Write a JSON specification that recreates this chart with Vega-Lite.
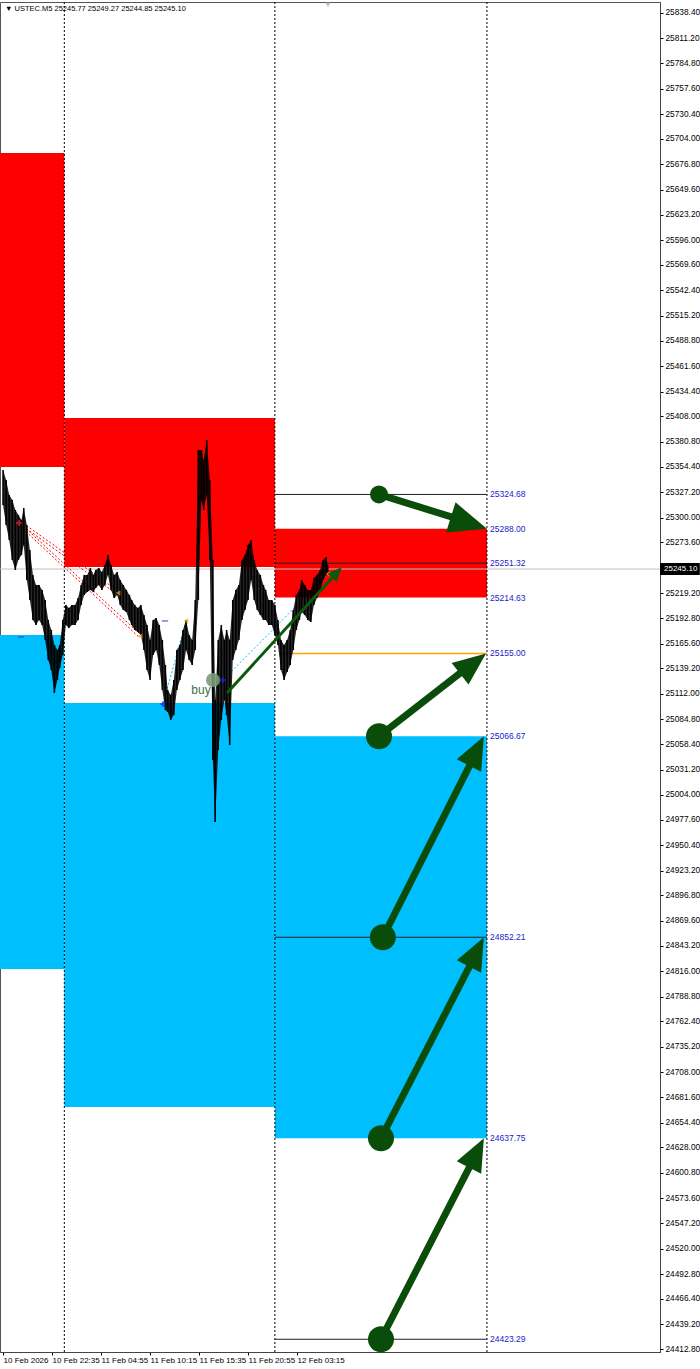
{
 "$schema": "https://vega.github.io/schema/vega-lite/v6.json",
 "width": 660, "height": 1350,
 "autosize": {"type": "none"},
 "padding": {"left": 0, "top": 2, "right": 40, "bottom": 17},
 "background": "#ffffff",
 "config": {"view": {"stroke": "#555555", "strokeWidth": 1}, "font": "Liberation Sans",
  "axis": {"grid": false, "labelFont": "Liberation Sans", "labelFontSize": 8, "labelColor": "#000000", "tickColor": "#000000", "tickSize": 3, "domainColor": "#444444", "labelOverlap": false, "labelFlush": false, "labelBound": false}},
 "data": {"values": [{}]},
 "datasets": {
  "zones": [
   {"x1": -4, "x2": 80, "top": 25689.0, "bot": 25354.0, "kind": "supply"},
   {"x1": -4, "x2": 80, "top": 25174.7, "bot": 24818.4, "kind": "demand"},
   {"x1": 80, "x2": 355, "top": 25406.3, "bot": 25247.3, "kind": "supply"},
   {"x1": 80, "x2": 355, "top": 25102.2, "bot": 24671.1, "kind": "demand"},
   {"x1": 355, "x2": 632, "top": 25288.0, "bot": 25214.63, "kind": "supply"},
   {"x1": 355, "x2": 632, "top": 25066.67, "bot": 24637.75, "kind": "demand"}
  ],
  "seps": [{"b": 80}, {"b": 355}, {"b": 632}],
  "levels": [
   {"price": 25324.68, "label": "25324.68", "kind": "line"},
   {"price": 25288.00, "label": "25288.00", "kind": "none"},
   {"price": 25251.32, "label": "25251.32", "kind": "line"},
   {"price": 25214.63, "label": "25214.63", "kind": "none"},
   {"price": 25155.00, "label": "25155.00", "kind": "orange"},
   {"price": 25066.67, "label": "25066.67", "kind": "none"},
   {"price": 24852.21, "label": "24852.21", "kind": "line"},
   {"price": 24637.75, "label": "24637.75", "kind": "none"},
   {"price": 24423.29, "label": "24423.29", "kind": "line"}
  ],
  "bars": [
   {"b":0,"hi":25350.8,"lo":25313.4},{"b":4,"hi":25340.1,"lo":25292.1},{"b":8,"hi":25324.1,"lo":25276.1},{"b":12,"hi":25318.8,"lo":25254.8},
   {"b":16,"hi":25308.1,"lo":25244.1},{"b":20,"hi":25302.8,"lo":25254.8},{"b":24,"hi":25297.4,"lo":25260.1},{"b":27,"hi":25310.2,"lo":25270.8},
   {"b":31,"hi":25292.1,"lo":25233.4},{"b":35,"hi":25265.4,"lo":25212.1},{"b":39,"hi":25238.8,"lo":25190.8},{"b":43,"hi":25228.1,"lo":25185.4},
   {"b":47,"hi":25228.1,"lo":25190.8},{"b":51,"hi":25222.8,"lo":25185.4},{"b":55,"hi":25212.1,"lo":25169.4},{"b":59,"hi":25190.8,"lo":25148.1},
   {"b":63,"hi":25180.1,"lo":25137.4},{"b":67,"hi":25164.1,"lo":25112.9},{"b":71,"hi":25158.7,"lo":25126.7},{"b":74,"hi":25164.1,"lo":25139.5},
   {"b":78,"hi":25190.8,"lo":25153.4},{"b":82,"hi":25206.8,"lo":25185.4},{"b":86,"hi":25203.6,"lo":25182.2},{"b":90,"hi":25206.8,"lo":25185.4},
   {"b":94,"hi":25206.8,"lo":25185.4},{"b":98,"hi":25214.2,"lo":25190.8},{"b":102,"hi":25228.1,"lo":25206.8},{"b":106,"hi":25238.8,"lo":25217.4},
   {"b":110,"hi":25238.8,"lo":25220.6},{"b":114,"hi":25246.2,"lo":25222.8},{"b":118,"hi":25238.8,"lo":25220.6},{"b":121,"hi":25244.1,"lo":25224.9},
   {"b":125,"hi":25246.2,"lo":25228.1},{"b":129,"hi":25241.9,"lo":25222.8},{"b":133,"hi":25249.4,"lo":25228.1},{"b":137,"hi":25260.1,"lo":25238.8},
   {"b":141,"hi":25249.4,"lo":25222.8},{"b":145,"hi":25238.8,"lo":25214.2},{"b":149,"hi":25241.9,"lo":25217.4},{"b":153,"hi":25233.4,"lo":25206.8},
   {"b":157,"hi":25228.1,"lo":25201.4},{"b":161,"hi":25222.8,"lo":25199.3},{"b":165,"hi":25217.4,"lo":25190.8},{"b":168,"hi":25212.1,"lo":25185.4},
   {"b":172,"hi":25206.8,"lo":25180.1},{"b":176,"hi":25203.6,"lo":25177.9},{"b":180,"hi":25206.8,"lo":25174.8},{"b":184,"hi":25196.1,"lo":25158.7},
   {"b":188,"hi":25185.4,"lo":25137.4},{"b":192,"hi":25169.4,"lo":25126.7},{"b":196,"hi":25190.8,"lo":25153.4},{"b":200,"hi":25192.9,"lo":25158.7},
   {"b":204,"hi":25185.4,"lo":25142.7},{"b":208,"hi":25169.4,"lo":25116.1},{"b":212,"hi":25142.7,"lo":25094.7},{"b":215,"hi":25116.1,"lo":25092.6},
   {"b":219,"hi":25110.7,"lo":25084.1},{"b":223,"hi":25126.7,"lo":25089.4},{"b":227,"hi":25158.7,"lo":25116.1},{"b":231,"hi":25164.1,"lo":25126.7},
   {"b":235,"hi":25180.1,"lo":25137.4},{"b":239,"hi":25190.8,"lo":25158.7},{"b":243,"hi":25174.8,"lo":25148.1},{"b":247,"hi":25169.4,"lo":25142.7},
   {"b":251,"hi":25212.1,"lo":25158.7},{"b":255,"hi":25372.1,"lo":25212.1},{"b":259,"hi":25372.1,"lo":25318.8},{"b":262,"hi":25361.5,"lo":25308.1},
   {"b":266,"hi":25382.8,"lo":25324.1},{"b":270,"hi":25340.1,"lo":25254.8},{"b":274,"hi":25254.8,"lo":25041.4},{"b":277,"hi":25105.4,"lo":24975.2},
   {"b":281,"hi":25169.4,"lo":25052.0},{"b":285,"hi":25185.4,"lo":25084.1},{"b":289,"hi":25169.4,"lo":25105.4},{"b":292,"hi":25180.1,"lo":25089.4},
   {"b":296,"hi":25169.4,"lo":25057.4},{"b":300,"hi":25212.1,"lo":25148.1},{"b":304,"hi":25222.8,"lo":25158.7},{"b":308,"hi":25228.1,"lo":25169.4},
   {"b":312,"hi":25254.8,"lo":25190.8},{"b":316,"hi":25260.1,"lo":25201.4},{"b":320,"hi":25270.8,"lo":25212.1},{"b":324,"hi":25276.1,"lo":25233.4},
   {"b":328,"hi":25254.8,"lo":25212.1},{"b":332,"hi":25244.1,"lo":25201.4},{"b":336,"hi":25238.8,"lo":25196.1},{"b":340,"hi":25228.1,"lo":25190.8},
   {"b":343,"hi":25222.8,"lo":25190.8},{"b":347,"hi":25212.1,"lo":25185.4},{"b":351,"hi":25212.1,"lo":25185.4},{"b":355,"hi":25206.8,"lo":25174.8},
   {"b":359,"hi":25190.8,"lo":25164.1},{"b":363,"hi":25169.4,"lo":25137.4},{"b":367,"hi":25164.1,"lo":25126.7},{"b":371,"hi":25169.4,"lo":25135.2},
   {"b":375,"hi":25180.1,"lo":25142.7},{"b":379,"hi":25201.4,"lo":25158.7},{"b":383,"hi":25217.4,"lo":25180.1},{"b":387,"hi":25222.8,"lo":25190.8},
   {"b":390,"hi":25233.4,"lo":25199.3},{"b":394,"hi":25228.1,"lo":25196.1},{"b":398,"hi":25222.8,"lo":25190.8},{"b":402,"hi":25222.8,"lo":25188.6},
   {"b":406,"hi":25235.6,"lo":25206.8},{"b":410,"hi":25238.8,"lo":25214.2},{"b":414,"hi":25244.1,"lo":25220.6},{"b":418,"hi":25254.8,"lo":25233.4},
   {"b":422,"hi":25258.0,"lo":25238.8},{"b":424,"hi":25249.4,"lo":25241.9}
  ],
  "dotted": [
   {"b1": 22.1, "p1": 25296.4, "b2": 150.1, "p2": 25221.7, "c": "red"},
   {"b1": 22.1, "p1": 25293.2, "b2": 150.1, "p2": 25217.4, "c": "red"},
   {"b1": 22.1, "p1": 25294.2, "b2": 178.8, "p2": 25175.8, "c": "red"},
   {"b1": 22.1, "p1": 25291.0, "b2": 178.8, "p2": 25171.5, "c": "red"},
   {"b1": 208.9, "p1": 25101.1, "b2": 238.9, "p2": 25189.7, "c": "blue"},
   {"b1": 287.2, "p1": 25126.7, "b2": 424.4, "p2": 25239.7, "c": "blue"}
  ],
  "markers": [
   {"b": 20.8, "p": 25294.2, "kind": "redcross"},
   {"b": 150.1, "p": 25219.5, "kind": "orange"},
   {"b": 178.8, "p": 25173.6, "kind": "orange"},
   {"b": 238.9, "p": 25189.7, "kind": "orange"},
   {"b": 424.4, "p": 25239.7, "kind": "orange"},
   {"b": 208.9, "p": 25101.1, "kind": "bluecross"},
   {"b": 287.2, "p": 25126.7, "kind": "bluecross"},
   {"b": 23.4, "p": 25172.6, "kind": "dash"},
   {"b": 211.5, "p": 25189.7, "kind": "dash"}
  ],
  "arrows": [
   {"id": 1, "b1": 491, "p1": 25324.68, "nb": 612.0, "np": 25294.0, "b2": 632, "p2": 25288.00},
   {"id": 2, "b1": 491, "p1": 25066.67, "nb": 614.3, "np": 25145.0, "b2": 630.7, "p2": 25155.00},
   {"id": 3, "b1": 496, "p1": 24852.21, "nb": 618.7, "np": 25050.6, "b2": 628, "p2": 25066.67},
   {"id": 4, "b1": 493.6, "p1": 24637.75, "nb": 618.7, "np": 24836.2, "b2": 628, "p2": 24852.21},
   {"id": 5, "b1": 493.6, "p1": 24423.29, "nb": 618.7, "np": 24622.2, "b2": 628, "p2": 24637.75},
   {"id": 6, "b1": 292.5, "p1": 25112.9, "nb": 436.5, "np": 25241.7, "b2": 442.6, "p2": 25247.3}
  ]
 },
 "layer": [
  {
   "data": {"name": "zones"},
   "mark": {"type": "rect"},
   "encoding": {
    "x": {"field": "x1", "type": "quantitative",
     "scale": {"domain": [-4, 858], "nice": false, "zero": false},
     "axis": {"orient": "bottom", "values": [0, 64, 128, 192, 256, 320, 384], "tickCount": 20,
      "labelExpr": "['10 Feb 2026','10 Feb 22:35','11 Feb 04:55','11 Feb 10:15','11 Feb 15:35','11 Feb 20:55','12 Feb 03:15'][round(datum.value/64)]",
      "labelAlign": "left", "labelBaseline": "top", "labelPadding": 1, "title": null, "labelOverlap": false}},
    "x2": {"field": "x2"},
    "y": {"field": "top", "type": "quantitative",
     "scale": {"domain": [24409.7, 25850.1], "nice": false, "zero": false},
     "axis": {"orient": "right", "format": ".2f", "labelPadding": 2, "title": null, "labelOverlap": false, "labelFontSize": 8.3, "tickCount": 80,
      "values": [25838.4,25811.2,25784.8,25757.6,25730.4,25704.0,25676.8,25649.6,25623.2,25596.0,25569.6,25542.4,25515.2,25488.8,25461.6,25434.4,25408.0,25380.8,25354.4,25327.2,25300.0,25273.6,25219.2,25192.8,25165.6,25139.2,25112.0,25084.8,25058.4,25031.2,25004.0,24977.6,24950.4,24923.2,24896.8,24869.6,24843.2,24816.0,24788.8,24762.4,24735.2,24708.0,24681.6,24654.4,24628.0,24600.8,24573.6,24547.2,24520.0,24492.8,24466.4,24439.2,24412.8]}},
    "y2": {"field": "bot"},
    "color": {"field": "kind", "type": "nominal", "scale": {"domain": ["supply", "demand"], "range": ["#ff0000", "#00bfff"]}, "legend": null}
   }
  },
  {
   "data": {"name": "seps"},
   "mark": {"type": "rule", "color": "#000000", "strokeDash": [2, 2], "strokeWidth": 1},
   "encoding": {"x": {"field": "b", "type": "quantitative"}}
  },
  {
   "mark": {"type": "rule", "color": "#c0c0c0", "strokeWidth": 1},
   "encoding": {"y": {"datum": 25245.1, "type": "quantitative"}}
  },
  {
   "data": {"name": "levels"},
   "transform": [{"filter": "datum.kind == 'line'"}],
   "mark": {"type": "rule", "color": "#202020", "strokeWidth": 1},
   "encoding": {
    "x": {"datum": 355, "type": "quantitative"},
    "x2": {"datum": 632},
    "y": {"field": "price", "type": "quantitative"}
   }
  },
  {
   "data": {"name": "levels"},
   "transform": [{"filter": "datum.kind == 'orange'"}],
   "mark": {"type": "rule", "color": "#ffa500", "strokeWidth": 1.5},
   "encoding": {
    "x": {"datum": 361.7, "type": "quantitative"},
    "x2": {"datum": 632},
    "y": {"field": "price", "type": "quantitative"}
   }
  },
  {
   "data": {"name": "dotted"},
   "mark": {"type": "rule", "strokeDash": [2, 2], "strokeWidth": 1},
   "encoding": {
    "x": {"field": "b1", "type": "quantitative"},
    "x2": {"field": "b2"},
    "y": {"field": "p1", "type": "quantitative"},
    "y2": {"field": "p2"},
    "color": {"field": "c", "type": "nominal", "scale": {"domain": ["red", "blue"], "range": ["#ff5050", "#3333ff"]}, "legend": null}
   }
  },
  {
   "data": {"name": "bars"},
   "mark": {"type": "area", "color": "#000000", "opacity": 0.85, "interpolate": "linear"},
   "encoding": {
    "x": {"field": "b", "type": "quantitative"},
    "y": {"field": "hi", "type": "quantitative"},
    "y2": {"field": "lo"}
   }
  },
  {
   "data": {"name": "bars"},
   "mark": {"type": "rule", "color": "#000000", "strokeWidth": 1.6},
   "encoding": {
    "x": {"field": "b", "type": "quantitative"},
    "y": {"field": "hi", "type": "quantitative"},
    "y2": {"field": "lo"}
   }
  },
  {
   "data": {"name": "markers"},
   "transform": [{"filter": "datum.kind == 'orange'"}],
   "mark": {"type": "point", "shape": "triangle-left", "filled": true, "color": "#f5a020", "size": 30},
   "encoding": {"x": {"field": "b", "type": "quantitative"}, "y": {"field": "p", "type": "quantitative"}}
  },
  {
   "data": {"name": "markers"},
   "transform": [{"filter": "datum.kind == 'redcross'"}],
   "mark": {"type": "point", "shape": "cross", "filled": true, "color": "#ff2020", "size": 30},
   "encoding": {"x": {"field": "b", "type": "quantitative"}, "y": {"field": "p", "type": "quantitative"}}
  },
  {
   "data": {"name": "markers"},
   "transform": [{"filter": "datum.kind == 'bluecross'"}],
   "mark": {"type": "point", "shape": "cross", "filled": true, "color": "#2020ff", "size": 30},
   "encoding": {"x": {"field": "b", "type": "quantitative"}, "y": {"field": "p", "type": "quantitative"}}
  },
  {
   "data": {"name": "markers"},
   "transform": [{"filter": "datum.kind == 'dash'"}],
   "mark": {"type": "point", "shape": "stroke", "color": "#4040d0", "strokeWidth": 1.5, "size": 40},
   "encoding": {"x": {"field": "b", "type": "quantitative"}, "y": {"field": "p", "type": "quantitative"}}
  },
  {
   "mark": {"type": "point", "shape": "circle", "filled": true, "color": "#7a9a7a", "opacity": 0.9, "size": 196},
   "encoding": {"x": {"datum": 274.2, "type": "quantitative"}, "y": {"datum": 25126.7, "type": "quantitative"}}
  },
  {
   "mark": {"type": "text", "text": "buy", "color": "#3f6f3f", "fontSize": 12, "font": "Liberation Sans", "align": "center", "baseline": "middle"},
   "encoding": {"x": {"datum": 258.5, "type": "quantitative"}, "y": {"datum": 25116.1, "type": "quantitative"}}
  },
  {
   "data": {"name": "arrows"},
   "transform": [{"filter": "datum.id == 6"}],
   "mark": {"type": "rule", "color": "#0b5a0b", "strokeWidth": 3},
   "encoding": {
    "x": {"field": "b1", "type": "quantitative"}, "x2": {"field": "nb"},
    "y": {"field": "p1", "type": "quantitative"}, "y2": {"field": "np"}
   }
  },
  {
   "data": {"name": "arrows"},
   "transform": [{"filter": "datum.id == 6"}],
   "mark": {"type": "point", "shape": "M0,0 L-2.4,-1 L-2.4,1 Z", "filled": true, "color": "#0b5a0b", "opacity": 1, "size": 150, "angle": 312.4},
   "encoding": {"x": {"field": "b2", "type": "quantitative"}, "y": {"field": "p2", "type": "quantitative"}}
  },
  {
   "data": {"name": "arrows"},
   "transform": [{"filter": "datum.id <= 5"}],
   "mark": {"type": "rule", "color": "#0a4d0a", "strokeWidth": 7},
   "encoding": {
    "x": {"field": "b1", "type": "quantitative"}, "x2": {"field": "nb"},
    "y": {"field": "p1", "type": "quantitative"}, "y2": {"field": "np"}
   }
  },
  {
   "data": {"name": "arrows"},
   "transform": [{"filter": "datum.id == 1"}],
   "mark": {"type": "point", "shape": "circle", "filled": true, "color": "#0a4d0a", "opacity": 1, "size": 324},
   "encoding": {"x": {"field": "b1", "type": "quantitative"}, "y": {"field": "p1", "type": "quantitative"}}
  },
  {
   "data": {"name": "arrows"},
   "transform": [{"filter": "datum.id >= 2 && datum.id <= 5"}],
   "mark": {"type": "point", "shape": "circle", "filled": true, "color": "#0a4d0a", "opacity": 1, "size": 676},
   "encoding": {"x": {"field": "b1", "type": "quantitative"}, "y": {"field": "p1", "type": "quantitative"}}
  },
  {
   "data": {"name": "arrows"},
   "transform": [{"filter": "datum.id == 1"}],
   "mark": {"type": "point", "shape": "M0,0 L-2.4,-1 L-2.4,1 Z", "filled": true, "color": "#0a4d0a", "opacity": 1, "size": 1000, "angle": 17.5},
   "encoding": {"x": {"field": "b2", "type": "quantitative"}, "y": {"field": "p2", "type": "quantitative"}}
  },
  {
   "data": {"name": "arrows"},
   "transform": [{"filter": "datum.id == 2"}],
   "mark": {"type": "point", "shape": "M0,0 L-2.4,-1 L-2.4,1 Z", "filled": true, "color": "#0a4d0a", "opacity": 1, "size": 750, "angle": 321.9},
   "encoding": {"x": {"field": "b2", "type": "quantitative"}, "y": {"field": "p2", "type": "quantitative"}}
  },
  {
   "data": {"name": "arrows"},
   "transform": [{"filter": "datum.id >= 3 && datum.id <= 5"}],
   "mark": {"type": "point", "shape": "M0,0 L-2.4,-1 L-2.4,1 Z", "filled": true, "color": "#0a4d0a", "opacity": 1, "size": 750, "angle": 297.0},
   "encoding": {"x": {"field": "b2", "type": "quantitative"}, "y": {"field": "p2", "type": "quantitative"}}
  },
  {
   "data": {"name": "levels"},
   "mark": {"type": "text", "color": "#2222cc", "fontSize": 8.5, "font": "Liberation Sans", "align": "left", "baseline": "middle"},
   "encoding": {
    "x": {"datum": 636, "type": "quantitative"},
    "y": {"field": "price", "type": "quantitative"},
    "text": {"field": "label"}
   }
  },
  {
   "mark": {"type": "text", "text": "▼ USTEC.M5  25245.77 25249.27 25244.85 25245.10", "color": "#000000", "fontSize": 7.5, "font": "Liberation Sans", "align": "left", "baseline": "middle"},
   "encoding": {"x": {"datum": 2.5, "type": "quantitative"}, "y": {"datum": 25842.7, "type": "quantitative"}}
  },
  {
   "mark": {"type": "point", "shape": "triangle-down", "filled": true, "color": "#a8a8a8", "size": 30},
   "encoding": {"x": {"datum": 424.4, "type": "quantitative"}, "y": {"datum": 25847.0, "type": "quantitative"}}
  },
  {
   "mark": {"type": "rect", "color": "#000000"},
   "encoding": {
    "x": {"datum": 858, "type": "quantitative"}, "x2": {"datum": 910},
    "y": {"datum": 25251.5, "type": "quantitative"}, "y2": {"datum": 25238.7}
   }
  },
  {
   "mark": {"type": "text", "text": "25245.10", "color": "#ffffff", "fontSize": 8, "font": "Liberation Sans", "align": "left", "baseline": "middle", "dx": 4},
   "encoding": {"x": {"datum": 858, "type": "quantitative"}, "y": {"datum": 25245.1, "type": "quantitative"}}
  }
 ]
}
